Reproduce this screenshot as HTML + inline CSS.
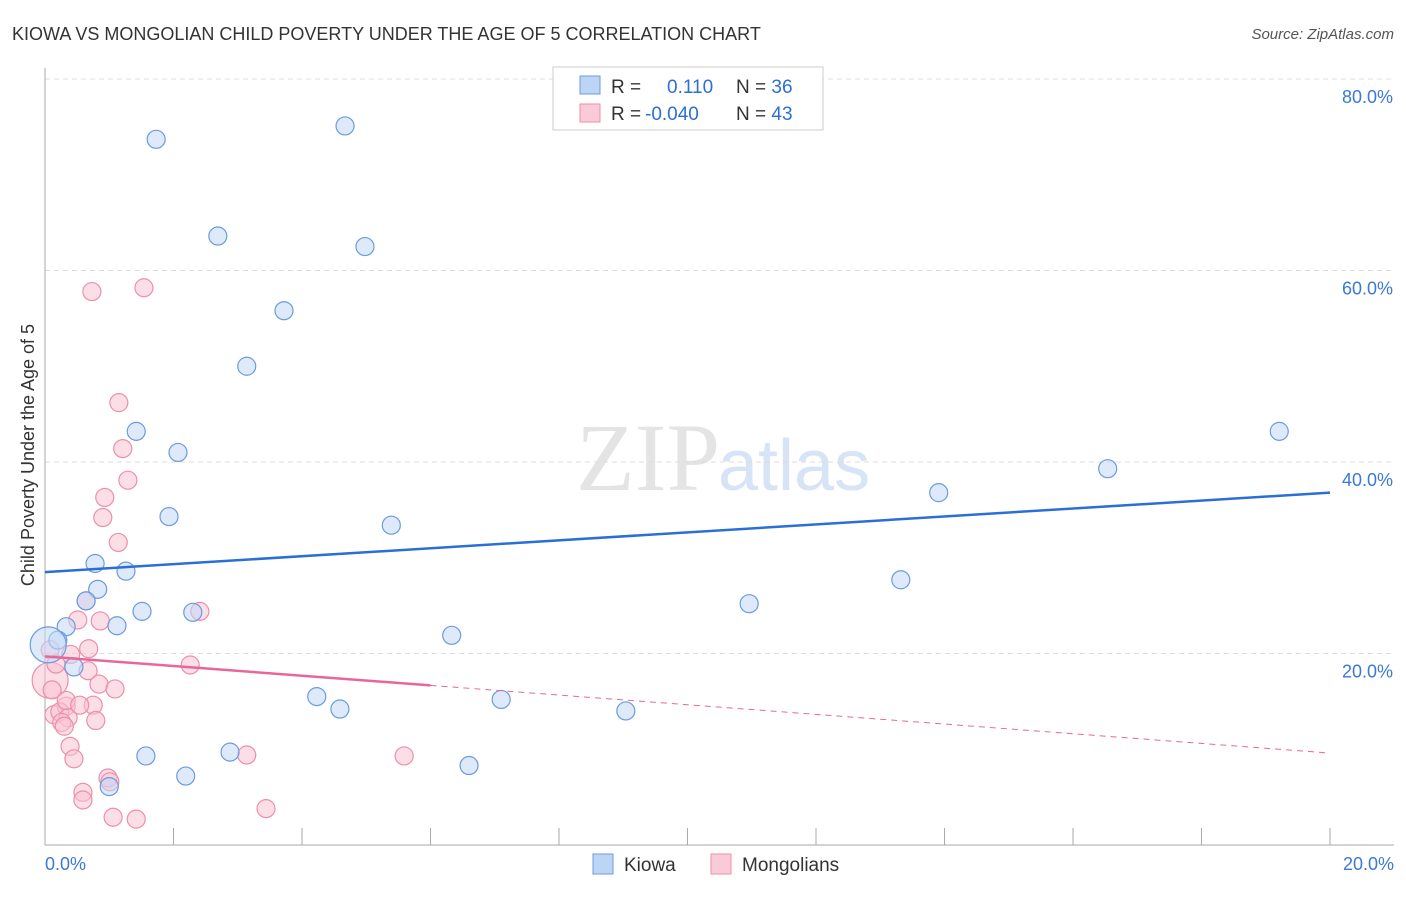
<!DOCTYPE html>
<html><head><meta charset="utf-8"><style>
body{margin:0;background:#fff;font-family:"Liberation Sans",sans-serif;}
</style></head><body>
<svg width="1406" height="892" xmlns="http://www.w3.org/2000/svg" font-family="Liberation Sans, sans-serif">
<text x="12" y="40" font-size="18" fill="#333">KIOWA VS MONGOLIAN CHILD POVERTY UNDER THE AGE OF 5 CORRELATION CHART</text>
<text x="1394" y="39" font-size="15" fill="#555" text-anchor="end" font-style="italic">Source: ZipAtlas.com</text>
<text x="720" y="490" font-size="96" fill="#e4e4e4" text-anchor="end" font-family="Liberation Serif, serif">ZIP</text>
<text x="718" y="490" font-size="72" fill="#d6e4f5">atlas</text>
<g id="grid"></g>
<g id="axes"></g>
<g id="pts"></g>
<g id="trend"></g>
<text x="34" y="455" font-size="18" fill="#333" text-anchor="middle" transform="rotate(-90 34 455)">Child Poverty Under the Age of 5</text>
<g>
<rect x="553" y="67" width="270" height="63" fill="#fff" stroke="#ccc"/>
<rect x="580" y="76" width="20" height="18" fill="#bcd5f5" stroke="#6a9be0"/>
<rect x="580" y="104" width="20" height="18" fill="#fbcad8" stroke="#eb8fab"/>
<text x="611" y="93" font-size="19" fill="#333">R = <tspan fill="#2a6fd6" x="667">0.110</tspan><tspan x="736" fill="#333">N = </tspan><tspan fill="#2a6fd6">36</tspan></text>
<text x="611" y="120" font-size="19" fill="#333">R = <tspan fill="#2a6fd6" x="645">-0.040</tspan><tspan x="736" fill="#333">N = </tspan><tspan fill="#2a6fd6">43</tspan></text>
</g>
<g>
<rect x="593" y="854" width="20" height="20" fill="#bcd5f5" stroke="#6a9be0"/>
<text x="624" y="871" font-size="19" fill="#333">Kiowa</text>
<rect x="711" y="854" width="20" height="20" fill="#fbcad8" stroke="#eb8fab"/>
<text x="742" y="871" font-size="19" fill="#333">Mongolians</text>
</g>
</svg>
<script>
const kiowaX=[1.73,4.67,2.69,4.98,3.72,3.14,1.42,2.07,1.93,5.39,0.78,1.26,0.82,0.64,1.51,2.30,1.12,0.33,0.20,0.05,0.45,6.33,4.23,4.59,7.10,9.04,1.57,2.88,2.19,6.60,1.00,10.96,13.32,13.91,16.54,19.21];
const kiowaY=[73.7,75.1,63.6,62.5,55.8,50.0,43.2,41.0,34.3,33.4,29.4,28.6,26.7,25.5,24.4,24.3,22.9,22.8,21.4,20.9,18.6,21.9,15.5,14.2,15.2,14.0,9.3,9.7,7.2,8.3,6.1,25.2,27.7,36.8,39.3,43.2];
const mongX=[0.73,1.54,1.15,1.21,1.29,0.93,0.90,1.14,0.64,2.41,0.51,0.86,0.40,0.68,2.26,0.67,0.84,1.09,0.08,0.11,0.14,0.33,0.23,0.36,0.26,0.75,0.79,0.30,0.39,0.45,3.14,5.59,0.98,1.01,0.59,0.59,1.06,1.42,3.44,0.08,0.17,0.33,0.54];
const mongY=[57.8,58.2,46.2,41.4,38.1,36.3,34.2,31.6,25.5,24.4,23.5,23.4,19.9,20.5,18.8,18.2,16.8,16.3,17.2,16.2,13.6,14.5,13.9,13.3,12.8,14.6,13.0,12.4,10.3,9.0,9.4,9.3,7.0,6.6,5.5,4.7,2.9,2.7,3.8,20.4,18.9,15.1,14.6];
const kiowaTrend=[28.5,36.8];
const mongTrend=[19.7,9.6];
const xTicks=[0,20];
const yTicks=[20,40,60,80];
const NS="http://www.w3.org/2000/svg";
const sx=v=>45+v/20*1285;
const sy=v=>845-v/20*191.5;
function mk(t,a,p){const e=document.createElementNS(NS,t);for(const k in a)e.setAttribute(k,a[k]);document.getElementById(p).appendChild(e);return e;}
yTicks.forEach(t=>{
 const l=mk('line',{x1:45,x2:1394,y1:sy(t),y2:sy(t),stroke:'#ddd','stroke-dasharray':'5,4'},'grid');
 
 
 const tx=mk('text',{x:1393,y:sy(t)+24,'font-size':18,fill:'#3b78d8','text-anchor':'end'},'grid');
 tx.textContent=t.toFixed(1)+'%';
 
 
});
mk('line',{x1:45,x2:45,y1:68,y2:845,stroke:'#aaa'},'axes');
mk('line',{x1:45,x2:1394,y1:845,y2:845,stroke:'#aaa'},'axes');
for(let i=1;i<=10;i++){const x=sx(i*2);mk('line',{x1:x,x2:x,y1:828,y2:845,stroke:'#aaa'},'axes');}
xTicks.forEach((t,i)=>{
 const tx=mk('text',{x:i?1394:45,y:870,'font-size':18,fill:'#3b78d8','text-anchor':i?'end':'start'},'axes');
 tx.textContent=t.toFixed(1)+'%';
 
 
});
function pts(X,Y,fill,stroke,name,bigIdx){
 X.forEach((x,i)=>{
  const c=mk('circle',{cx:sx(x),cy:sy(Y[i]),r:i===bigIdx?18:9,fill:fill,'fill-opacity':0.55,stroke:stroke,'stroke-width':1.2},'pts');
  
  
 });
}
pts(mongX,mongY,'#f9c2d3','#ec8fab','mongolians-point',18);
pts(kiowaX,kiowaY,'#c2d8f6','#6a9be0','kiowa-point',19);
let t1=mk('line',{x1:sx(0),y1:sy(kiowaTrend[0]),x2:sx(20),y2:sy(kiowaTrend[1]),stroke:'#2a6fd6','stroke-width':2.5},'trend');


const mAt=x=>mongTrend[0]+(mongTrend[1]-mongTrend[0])*x/20;
let t2=mk('line',{x1:sx(0),y1:sy(mAt(0)),x2:sx(6),y2:sy(mAt(6)),stroke:'#e8679a','stroke-width':2.5},'trend');


let t3=mk('line',{x1:sx(6),y1:sy(mAt(6)),x2:sx(20),y2:sy(mAt(20)),stroke:'#e8679a','stroke-width':1,'stroke-dasharray':'6,5'},'trend');


</script>
</body></html>
